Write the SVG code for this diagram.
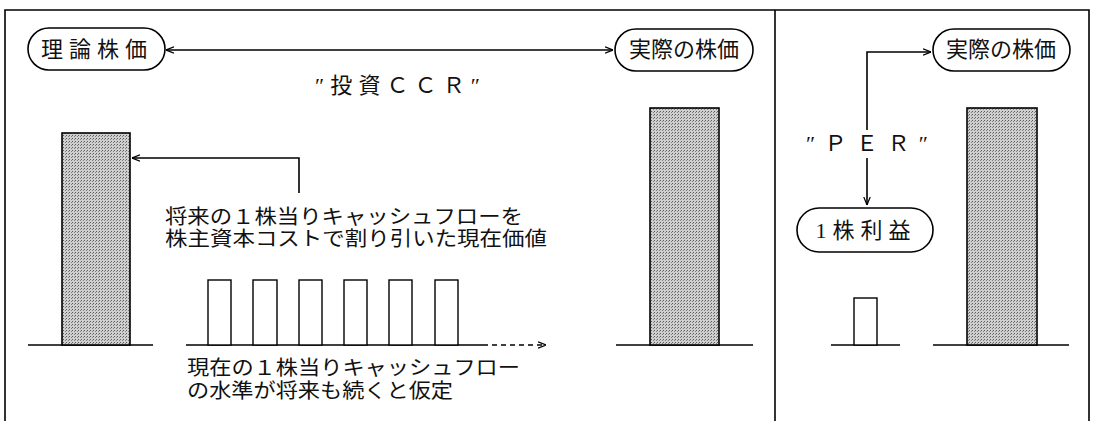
<svg xmlns="http://www.w3.org/2000/svg" width="1093" height="421" viewBox="0 0 1093 421">
<style>
.ln{stroke:#000;stroke-width:1.6;fill:none}
.pill{fill:#fff;stroke:#000;stroke-width:1.6}
.bar{fill:url(#dots);stroke:#000;stroke-width:1.6}
.box{fill:#fff;stroke:#000;stroke-width:1.4}
.t{font-family:"Liberation Serif","Noto Sans CJK JP",serif;font-size:20px;fill:#111}
.tl{font-family:"Liberation Serif","Noto Sans CJK JP",serif;font-size:22px;fill:#111}
.tp{font-family:"Liberation Serif","Noto Sans CJK JP",serif;font-size:22px;fill:#111;text-anchor:middle}
</style>
<defs>
<pattern id="dots" width="3" height="3" patternUnits="userSpaceOnUse">
<rect width="3" height="3" fill="#cfcfcf"/>
<rect width="1" height="1" fill="#5a5a5a"/>
<rect x="2" y="1" width="1" height="1" fill="#808080"/>
</pattern>
<marker id="ah" viewBox="0 0 10 10" refX="10" refY="5" markerWidth="8" markerHeight="8" markerUnits="userSpaceOnUse" orient="auto-start-reverse">
<path d="M0,1 L10,5 L0,9" fill="none" stroke="#000" stroke-width="1.5"/>
</marker>
</defs>
<g id="frame" class="ln">
<path d="M5,421 V10 H1089 V421"/>
<path d="M775,10 V421"/>
</g>
<g id="connectors">
<path class="ln" d="M166,50 H613" marker-start="url(#ah)" marker-end="url(#ah)"/>
<path class="ln" d="M299,193 V158 H132" marker-end="url(#ah)"/>
<path class="ln" d="M867,130 V52 H931" marker-end="url(#ah)"/>
<path class="ln" d="M867,158 V205" marker-end="url(#ah)"/>
<path class="ln" d="M186,345 H483"/>
<path class="ln" d="M483,345 H546" stroke-dasharray="5,4" marker-end="url(#ah)"/>
</g>
<g id="node-riron">
<rect class="pill" x="28" y="28" width="137" height="42" rx="21"/>
<text class="tp" x="97" y="57" letter-spacing="6">理論株価</text>
</g>
<g id="node-jissai-left">
<rect class="pill" x="615" y="29" width="138" height="42" rx="21"/>
<text class="tp" x="684" y="57">実際の株価</text>
</g>
<g id="node-jissai-right">
<rect class="pill" x="933" y="29" width="137" height="42" rx="21"/>
<text class="tp" x="1001" y="57">実際の株価</text>
</g>
<g id="node-eps">
<rect class="pill" x="797" y="208" width="136" height="44" rx="22"/>
<text class="tp" x="866" y="238" letter-spacing="6">1株利益</text>
</g>
<g id="label-ccr">
<text class="tl" x="315" y="93" textLength="165" lengthAdjust="spacing">″投資ＣＣＲ″</text>
</g>
<g id="label-per">
<text class="tl" x="806" y="151" textLength="122" lengthAdjust="spacing">″ＰＥＲ″</text>
</g>
<g id="label-pv">
<text class="t" x="165" y="224" textLength="358" lengthAdjust="spacingAndGlyphs">将来の１株当りキャッシュフローを</text>
<text class="t" x="165" y="246" textLength="382" lengthAdjust="spacingAndGlyphs">株主資本コストで割り引いた現在価値</text>
</g>
<g id="label-cf">
<text class="t" x="187" y="375" textLength="333" lengthAdjust="spacingAndGlyphs">現在の１株当りキャッシュフロー</text>
<text class="t" x="187" y="398" textLength="266" lengthAdjust="spacingAndGlyphs">の水準が将来も続くと仮定</text>
</g>
<g id="chart-riron">
<path class="ln" d="M28,345 H153"/>
<rect class="bar" x="62" y="133" width="68" height="212"/>
</g>
<g id="chart-cf">
<rect class="box" x="208" y="280" width="23" height="65"/>
<rect class="box" x="253" y="280" width="24" height="65"/>
<rect class="box" x="299" y="280" width="23" height="65"/>
<rect class="box" x="344" y="280" width="23" height="65"/>
<rect class="box" x="389" y="280" width="23" height="65"/>
<rect class="box" x="435" y="280" width="23" height="65"/>
</g>
<g id="chart-jissai-left">
<path class="ln" d="M616,345 H753"/>
<rect class="bar" x="650" y="108" width="69" height="237"/>
</g>
<g id="chart-eps">
<path class="ln" d="M831,345 H900"/>
<rect class="box" x="854" y="298" width="23" height="47"/>
</g>
<g id="chart-jissai-right">
<path class="ln" d="M933,345 H1069"/>
<rect class="bar" x="967" y="108" width="70" height="237"/>
</g>
</svg>
